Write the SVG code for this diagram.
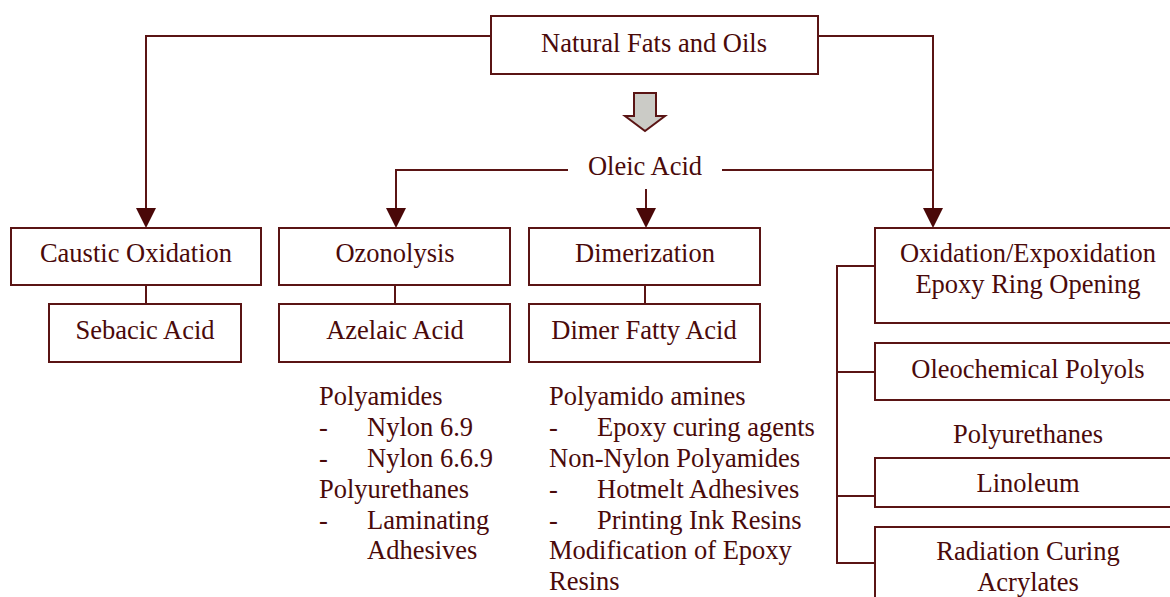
<svg xmlns="http://www.w3.org/2000/svg" width="1170" height="597" viewBox="0 0 1170 597">
<defs>
<style>
.box{fill:#fff;stroke:#5a1414;stroke-width:2}
.ln{fill:none;stroke:#5a1414;stroke-width:2}
text{font-family:"Liberation Serif","Times New Roman",serif;font-size:26.5px;fill:#4a0a0a}
.c{text-anchor:middle}
</style>
</defs>
<rect width="1170" height="597" fill="#fff"/>
<g id="connectors">
<polyline class="ln" points="491,36 146,36 146,209"/>
<polyline class="ln" points="818,36 933,36 933,209"/>
<polyline class="ln" points="568,170 396,170 396,209"/>
<line class="ln" x1="722" y1="170" x2="933" y2="170"/>
<line class="ln" x1="646" y1="189" x2="646" y2="209"/>
<polygon points="136,208 156,208 146,228" fill="#4a0808"/>
<polygon points="386,208 406,208 396,228" fill="#4a0808"/>
<polygon points="636,208 656,208 646,228" fill="#4a0808"/>
<polygon points="923,208 943,208 933,228" fill="#4a0808"/>
<line class="ln" x1="146" y1="285" x2="146" y2="304"/>
<line class="ln" x1="395" y1="285" x2="395" y2="304"/>
<line class="ln" x1="645" y1="285" x2="645" y2="304"/>
<polyline class="ln" points="875,266 837,266 837,563 875,563"/>
<line class="ln" x1="837" y1="372" x2="875" y2="372"/>
<line class="ln" x1="837" y1="496" x2="875" y2="496"/>
<polygon points="634,93 656,93 656,116 665,116 645,131 625,116 634,116" fill="#cbcbc6" stroke="#5a1414" stroke-width="2"/>
</g>
<g id="natural"><rect class="box" x="491" y="16" width="327" height="58"/><text class="c" x="654" y="52">Natural Fats and Oils</text></g>
<g id="oleic"><text class="c" x="645" y="175">Oleic Acid</text></g>
<g id="caustic"><rect class="box" x="11" y="228" width="250" height="57"/><text class="c" x="136" y="262">Caustic Oxidation</text></g>
<g id="sebacic"><rect class="box" x="49" y="304" width="192" height="58"/><text class="c" x="145" y="339">Sebacic Acid</text></g>
<g id="ozonolysis"><rect class="box" x="279" y="228" width="231" height="57"/><text class="c" x="395" y="262">Ozonolysis</text></g>
<g id="azelaic"><rect class="box" x="279" y="304" width="231" height="58"/><text class="c" x="395" y="339">Azelaic Acid</text></g>
<g id="dimerization"><rect class="box" x="529" y="228" width="231" height="57"/><text class="c" x="645" y="262">Dimerization</text></g>
<g id="dimer"><rect class="box" x="529" y="304" width="231" height="58"/><text class="c" x="644" y="339">Dimer Fatty Acid</text></g>
<g id="azelaic-uses">
<text x="319" y="405">Polyamides</text>
<text x="319" y="436">-</text><text x="367" y="436">Nylon 6.9</text>
<text x="319" y="467">-</text><text x="367" y="467">Nylon 6.6.9</text>
<text x="319" y="498">Polyurethanes</text>
<text x="319" y="529">-</text><text x="367" y="529">Laminating</text>
<text x="367" y="559">Adhesives</text>
</g>
<g id="dimer-uses">
<text x="549" y="405">Polyamido amines</text>
<text x="549" y="436">-</text><text x="597" y="436">Epoxy curing agents</text>
<text x="549" y="467">Non-Nylon Polyamides</text>
<text x="549" y="498">-</text><text x="597" y="498">Hotmelt Adhesives</text>
<text x="549" y="529">-</text><text x="597" y="529">Printing Ink Resins</text>
<text x="549" y="559">Modification of Epoxy</text>
<text x="549" y="590">Resins</text>
</g>
<g id="oxidation"><rect class="box" x="875" y="228" width="305" height="95"/><text class="c" x="1028" y="262">Oxidation/Expoxidation</text><text class="c" x="1028" y="293">Epoxy Ring Opening</text></g>
<g id="polyols"><rect class="box" x="875" y="343" width="305" height="57"/><text class="c" x="1028" y="378">Oleochemical Polyols</text></g>
<g id="pu"><text class="c" x="1028" y="443">Polyurethanes</text></g>
<g id="linoleum"><rect class="box" x="875" y="458" width="305" height="49"/><text class="c" x="1028" y="492">Linoleum</text></g>
<g id="radiation"><rect class="box" x="875" y="527" width="305" height="80"/><text class="c" x="1028" y="560">Radiation Curing</text><text class="c" x="1028" y="591">Acrylates</text></g>
</svg>
